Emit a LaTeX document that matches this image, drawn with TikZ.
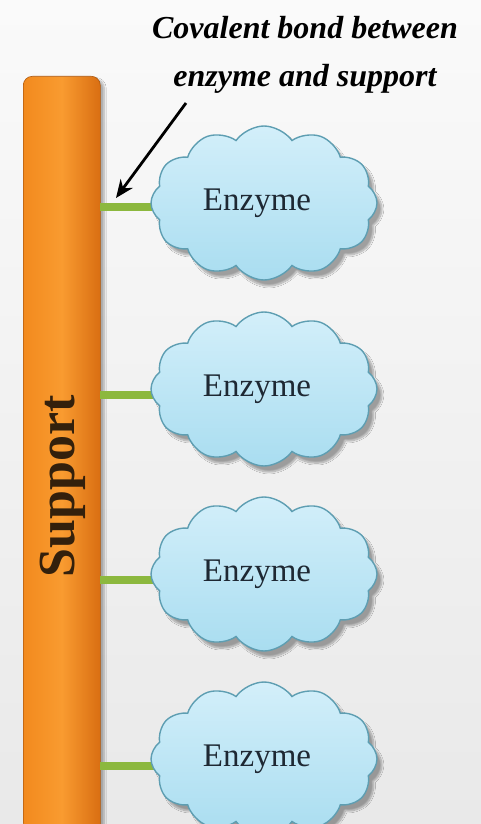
\documentclass[tikz,border=0pt]{standalone}
\usepackage{fontspec}
\setmainfont{Liberation Serif}
\usetikzlibrary{shapes.symbols,shadows.blur,arrows.meta}
\definecolor{bgA}{HTML}{FAFAFA}
\definecolor{bgB}{HTML}{E9E9E9}
\definecolor{orangeL}{HTML}{F28A1E}
\definecolor{orangeM}{HTML}{F99B30}
\definecolor{orangeR}{HTML}{D96E12}
\definecolor{cloudTop}{HTML}{D3EFFA}
\definecolor{cloudBot}{HTML}{A9DDF0}
\definecolor{cloudEdge}{HTML}{5E9EB2}
\definecolor{bondG}{HTML}{8CB83E}
\definecolor{supText}{HTML}{33200C}
\definecolor{enzText}{HTML}{1E2833}
\tikzset{
  enzcloud/.style={cloud, cloud puffs=12, cloud puff arc=110, aspect=1.45,
    minimum width=226pt, minimum height=154pt, inner sep=0pt,
    top color=cloudTop, bottom color=cloudBot, draw=cloudEdge, line width=1.4pt,
    blur shadow={shadow xshift=5pt, shadow yshift=-6pt, shadow blur steps=12, shadow opacity=35},
    text=enzText, font=\fontsize{33}{36}\selectfont},
  bondline/.style={line width=8pt, bondG},
  supportbar/.style={rounded corners=9pt, left color=orangeL, right color=orangeR,
    middle color=orangeM, draw=orangeR!80!black, line width=0.6pt,
    blur shadow={shadow xshift=4pt, shadow yshift=-3pt, shadow blur steps=8, shadow opacity=30}},
  titletext/.style={font=\fontsize{32}{48}\selectfont\bfseries\itshape, align=center, text=black},
  pointer/.style={line width=2.8pt, -{Stealth[length=18pt,width=15pt]}}
}
\newcommand{\enzlabel}{\hspace*{-14pt}Enzyme}
\begin{document}
\begin{tikzpicture}[x=1pt,y=-1pt]
\useasboundingbox (0,0) rectangle (481,824);
\shade[top color=bgA, bottom color=bgB] (0,0) rectangle (481,824);
% support bar
\node[supportbar, minimum width=77pt, minimum height=780pt, anchor=north west, inner sep=0pt] (sup) at (23,76) {};
\node[rotate=90, text=supText, font=\fontsize{52}{54}\selectfont\bfseries] (suplabel) at (63,486) {Support};
% bonds (drawn first, behind clouds)
\coordinate (b1) at (100,207);
\coordinate (b2) at (100,395);
\coordinate (b3) at (100,580);
\coordinate (b4) at (100,766);
\coordinate (c1) at (160,207);
\coordinate (c2) at (160,395);
\coordinate (c3) at (160,580);
\coordinate (c4) at (160,766);
\draw[bondline] (b1) -- (c1);
\draw[bondline] (b2) -- (c2);
\draw[bondline] (b3) -- (c3);
\draw[bondline] (b4) -- (c4);
% clouds
\node[enzcloud] (e1) at (264,203) {\enzlabel};
\node[enzcloud] (e2) at (264,389) {\enzlabel};
\node[enzcloud] (e3) at (264,574) {\enzlabel};
\node[enzcloud] (e4) at (264,759) {\enzlabel};
% title
\node[titletext] (title) at (305,55) {Covalent bond between\\enzyme and support};
\coordinate (tail) at (186,103);
\coordinate (head) at (116,198);
\draw[pointer] (tail) -- (head);
\end{tikzpicture}
\end{document}
